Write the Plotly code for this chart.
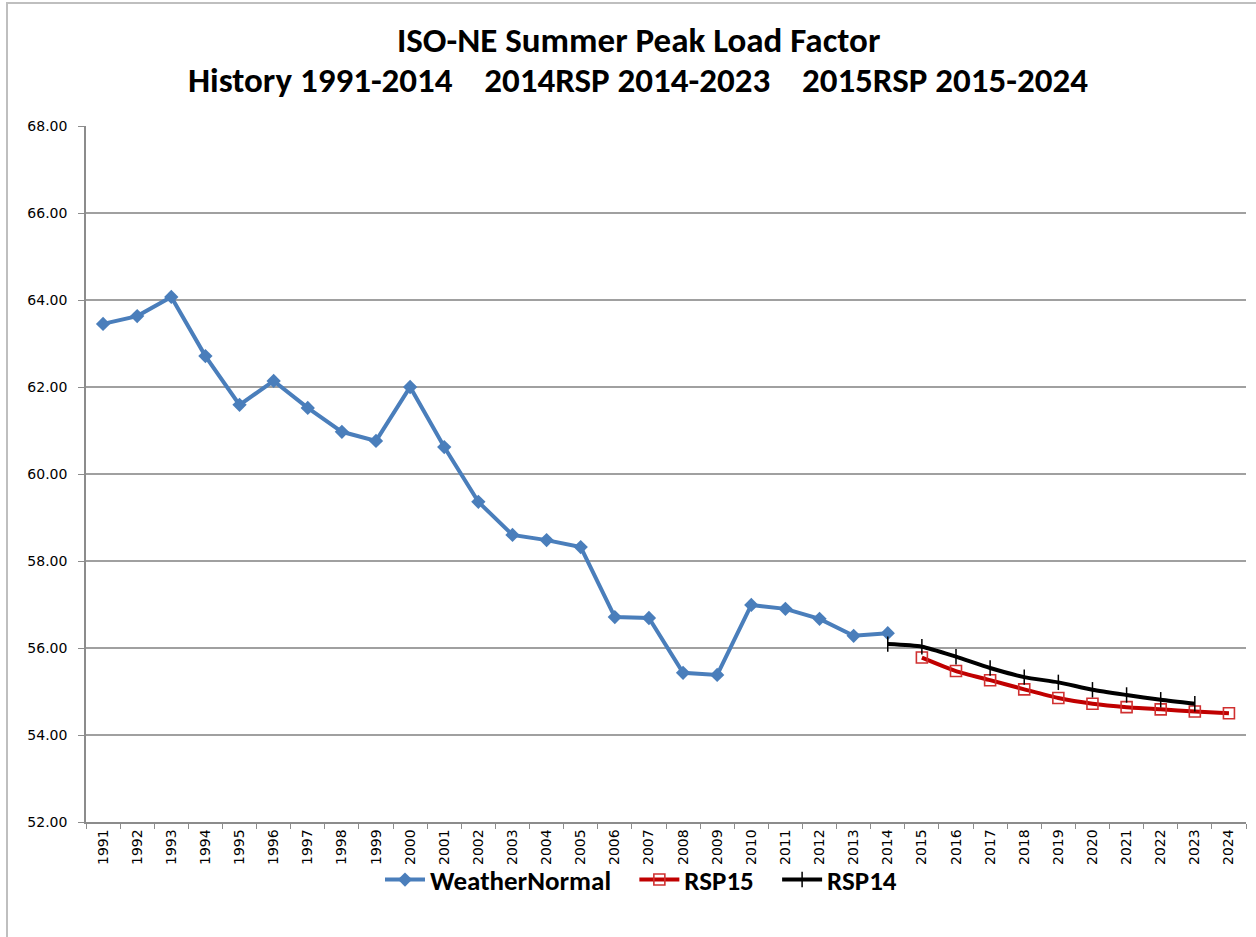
import plotly.graph_objects as go

years = [str(y) for y in range(1991, 2025)]

hist_years = [str(y) for y in range(1991, 2015)]
weather_normal = [63.45, 63.63, 64.07, 62.71, 61.59, 62.14, 61.52, 60.97, 60.76, 62.00,
                  60.62, 59.36, 58.60, 58.48, 58.32, 56.71, 56.69, 55.43, 55.38, 56.99,
                  56.90, 56.67, 56.28, 56.34]

rsp15_years = [str(y) for y in range(2015, 2025)]
rsp15 = [55.78, 55.47, 55.26, 55.05, 54.85, 54.72, 54.64, 54.59, 54.54, 54.50]

rsp14_years = [str(y) for y in range(2014, 2024)]
rsp14 = [56.09, 56.03, 55.80, 55.54, 55.33, 55.21, 55.04, 54.92, 54.81, 54.72]

title_lines = ["ISO-NE Summer Peak Load Factor",
               "History 1991-2014    2014RSP 2014-2023    2015RSP 2015-2024"]

title_font = "Carlito, Lato, 'Liberation Sans', sans-serif"

W, H = 1256, 937
L, R, T, B = 86, 10, 126, 115
PH = H - T - B
PW = W - L - R

GAP = "\u00a0\u00a0\u00a0"

fig = go.Figure()
fig.add_trace(go.Scatter(
    x=hist_years, y=weather_normal, name="WeatherNormal" + GAP, mode="lines+markers",
    line=dict(color="#4a7ebb", width=4),
    marker=dict(symbol="diamond", size=11, color="#4a7ebb")))
fig.add_trace(go.Scatter(
    x=rsp15_years, y=rsp15, name="RSP15" + GAP, mode="lines+markers",
    line=dict(color="#c00000", width=4, shape="spline", smoothing=0.6),
    marker=dict(symbol="square-open", size=11, color="#d03030", line=dict(width=1.6))))
fig.add_trace(go.Scatter(
    x=rsp14_years, y=rsp14, name="RSP14", mode="lines+markers",
    line=dict(color="#000000", width=4, shape="spline", smoothing=0.6),
    marker=dict(symbol="line-ns", size=11, color="#000000", line=dict(width=1.5, color="#000000"))))

def py(p):
    return 1 + (T - p) / PH

def px(p):
    return (p - L) / PW

for txt, ypix in zip(title_lines, [40, 80]):
    fig.add_annotation(text=txt.replace(" ", "\u00a0"), xref="paper", yref="paper",
                       x=px(638), y=py(ypix), xanchor="center", yanchor="middle",
                       showarrow=False,
                       font=dict(family=title_font, size=35, color="black", weight="bold"))

fig.update_layout(
    width=W, height=H,
    paper_bgcolor="white", plot_bgcolor="white",
    margin=dict(l=L, r=R, t=T, b=B, autoexpand=False),
    showlegend=True,
    legend=dict(orientation="h", x=px(641), xanchor="center", y=py(880), yanchor="middle",
                font=dict(family=title_font, size=27, color="black", weight="bold"),
                itemwidth=40, tracegroupgap=0, bgcolor="rgba(0,0,0,0)"),
    xaxis=dict(type="category", categoryorder="array", categoryarray=years,
               range=[-0.5, len(years) - 0.5], automargin=False,
               tickangle=-90, tickson="boundaries", ticks="outside", ticklen=5,
               tickcolor="#8c8c8c", showline=True, linecolor="#8c8c8c", linewidth=1.5,
               showgrid=False,
               tickfont=dict(family="DejaVu Sans", size=14, color="black")),
    yaxis=dict(range=[52, 68], dtick=2, tickformat=".2f", automargin=False,
               ticks="outside", ticklen=6, tickcolor="#8c8c8c", ticklabelstandoff=8,
               showline=True, linecolor="#8c8c8c", linewidth=1.5,
               gridcolor="#a0a0a0", gridwidth=1.5, zeroline=False,
               tickfont=dict(family="DejaVu Sans", size=14, color="black")),
)

fig.add_shape(type="rect", xref="paper", yref="paper",
              x0=px(7), x1=px(1262), y0=py(945), y1=py(3),
              line=dict(color="#bfbfbf", width=2), fillcolor="rgba(0,0,0,0)", layer="below")

fig.write_html("out.html", config={"displayModeBar": False},
               post_script="document.body.style.margin='0px';document.body.style.overflow='hidden';")
